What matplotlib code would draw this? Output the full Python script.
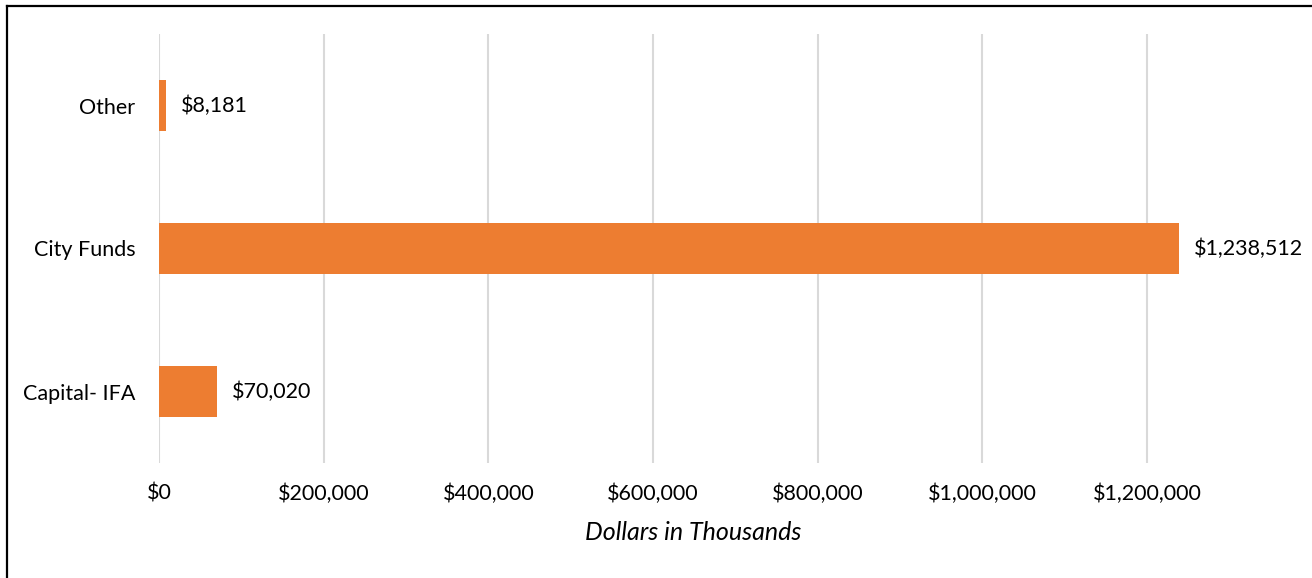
import matplotlib.pyplot as plt
from matplotlib.lines import Line2D
from matplotlib.ticker import FuncFormatter

categories = ["Capital- IFA", "City Funds", "Other"]
values = [70020, 1238512, 8181]
xticks = [0, 200000, 400000, 600000, 800000, 1000000, 1200000]

plt.rcParams["font.family"] = ["Lato", "DejaVu Sans"]

fig = plt.figure(figsize=(13.12, 5.78), dpi=100)
ax = fig.add_axes([159 / 1312, 115 / 578, 1068 / 1312, 429 / 578])

bars = ax.barh(categories, values, height=0.36, color="#ED7D31", zorder=3)

for bar, v in zip(bars, values):
    ax.annotate(
        "${:,}".format(v),
        xy=(bar.get_width(), bar.get_y() + bar.get_height() / 2),
        xytext=(11, 0),
        textcoords="offset points",
        ha="left",
        va="center",
        fontsize=15.5,
        color="#000000",
    )

ax.set_xlim(0, 1297200)
ax.set_ylim(-0.5, 2.5)
ax.set_xticks(xticks)
ax.xaxis.set_major_formatter(FuncFormatter(lambda x, p: "${:,.0f}".format(x)))
ax.grid(axis="x", color="#D9D9D9", linewidth=1.5, zorder=0)

for s in ax.spines.values():
    s.set_visible(False)

ax.tick_params(axis="both", length=0, labelsize=15.5, labelcolor="#000000")
ax.tick_params(axis="x", pad=15)
ax.tick_params(axis="y", pad=17)

ax.set_xlabel("Dollars in Thousands", fontsize=18, style="italic", labelpad=12)

# chart frame (only top and left edges visible)
fig.add_artist(Line2D([7 / 1312, 1], [1 - 5.5 / 578, 1 - 5.5 / 578],
                      transform=fig.transFigure, color="black", linewidth=1.6))
fig.add_artist(Line2D([7 / 1312, 7 / 1312], [0, 1 - 5.5 / 578],
                      transform=fig.transFigure, color="black", linewidth=1.6))

fig.savefig("out.png", dpi=100)
